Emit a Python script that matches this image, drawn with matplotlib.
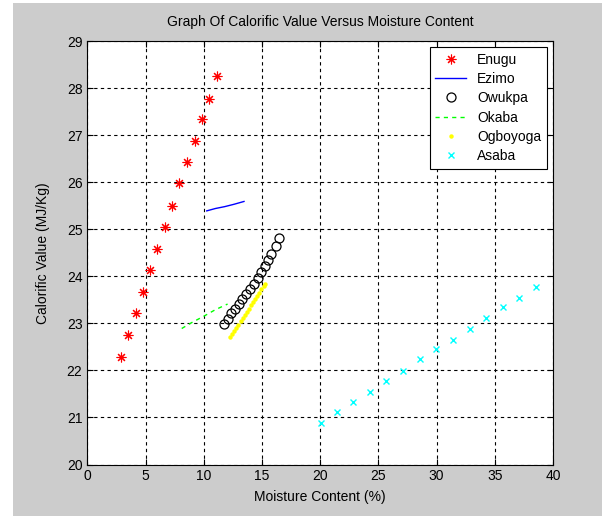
import matplotlib
matplotlib.use("Agg")
import matplotlib.pyplot as plt
from matplotlib.patches import Rectangle

plt.rcParams['font.family'] = ['Liberation Sans', 'DejaVu Sans']

# Data
enugu_x = [2.87, 3.52, 4.16, 4.79, 5.41, 5.99, 6.68, 7.30, 7.91, 8.57, 9.23, 9.83, 10.43, 11.12]
enugu_y = [22.29, 22.75, 23.21, 23.67, 24.13, 24.57, 25.05, 25.50, 25.98, 26.42, 26.87, 27.35, 27.77, 28.26]

ezimo_x = [10.26, 11.0, 11.8, 12.6, 13.46]
ezimo_y = [25.39, 25.44, 25.48, 25.53, 25.59]

owukpa_x = [11.77, 12.10, 12.38, 12.67, 13.02, 13.30, 13.62, 13.96, 14.28, 14.62, 14.91, 15.24, 15.53, 15.82, 16.18, 16.48]
owukpa_y = [22.99, 23.10, 23.21, 23.30, 23.41, 23.51, 23.62, 23.73, 23.84, 23.96, 24.09, 24.22, 24.35, 24.48, 24.64, 24.82]

okaba_x = [8.11, 9.0, 10.0, 11.0, 12.05]
okaba_y = [22.89, 23.02, 23.15, 23.29, 23.41]

ogboyoga_x = [12.26, 12.44, 12.62, 12.80, 12.98, 13.16, 13.34, 13.52, 13.70, 13.88, 14.06, 14.24,
              14.42, 14.60, 14.78, 14.96, 15.14, 15.24]
ogboyoga_y = [22.70, 22.77, 22.84, 22.90, 22.97, 23.04, 23.11, 23.18, 23.24, 23.31, 23.38, 23.45,
              23.52, 23.59, 23.65, 23.72, 23.79, 23.84]

asaba_x = [20.05, 21.45, 22.80, 24.26, 25.66, 27.15, 28.56, 29.98, 31.39, 32.88, 34.28, 35.71, 37.11, 38.57]
asaba_y = [20.89, 21.12, 21.33, 21.54, 21.78, 21.99, 22.24, 22.45, 22.65, 22.89, 23.11, 23.34, 23.54, 23.77]

x_ticks = [0, 5, 10, 15, 20, 25, 30, 35, 40]
y_ticks = [20, 21, 22, 23, 24, 25, 26, 27, 28, 29]

fig = plt.figure(figsize=(6.02, 5.16), dpi=100, facecolor='white')
fig.patches.append(Rectangle((13/602, 0), 1 - 13/602, 1 - 3/516, transform=fig.transFigure,
                             facecolor='#cccccc', edgecolor='none', zorder=-10))
ax = fig.add_axes([87.3/602, 1 - 464.5/516, (553 - 87.3)/602, (464.5 - 41)/516])
ax.set_facecolor('white')

ax.plot(enugu_x, enugu_y, linestyle='none', marker=(8, 2, 0), color='red', markersize=7,
        markeredgewidth=0.8, label='Enugu')
ax.plot(ezimo_x, ezimo_y, '-', color='blue', linewidth=1.0, label='Ezimo')
ax.plot(owukpa_x, owukpa_y, linestyle='none', marker='o', markerfacecolor='none',
        markeredgecolor='black', markersize=6.5, markeredgewidth=0.9, label='Owukpa')
ax.plot(okaba_x, okaba_y, '--', color='#00ff00', linewidth=1.0, dashes=(3, 3), label='Okaba')
ax.plot(ogboyoga_x, ogboyoga_y, linestyle='none', marker='o', color='yellow', markersize=3.2,
        markeredgewidth=0, label='Ogboyoga')
ax.plot(asaba_x, asaba_y, linestyle='none', marker='x', color='cyan', markersize=5,
        markeredgewidth=1.0, label='Asaba')

ax.set_xlim(0, 40)
ax.set_ylim(20, 29)
ax.set_xticks(x_ticks)
ax.set_yticks(y_ticks)
ax.tick_params(direction='in', top=True, right=True, labelsize=10, length=4)
ax.grid(True, color='black', linestyle=(0, (3, 3)), linewidth=0.8)
for s in ax.spines.values():
    s.set_linewidth(0.8)

ax.set_title('Graph Of Calorific Value Versus Moisture Content', fontsize=10, pad=11)
ax.set_xlabel('Moisture Content (%)', fontsize=10, labelpad=5)
ax.set_ylabel('Calorific Value (MJ/Kg)', fontsize=10, labelpad=12)

leg = ax.legend(loc='upper right', fontsize=10, frameon=True, fancybox=False, framealpha=1,
                edgecolor='black', borderaxespad=0.45, handlelength=2.2, labelspacing=0.38)
leg.get_frame().set_linewidth(0.8)

fig.savefig('out.png', dpi=100, facecolor=fig.get_facecolor())
